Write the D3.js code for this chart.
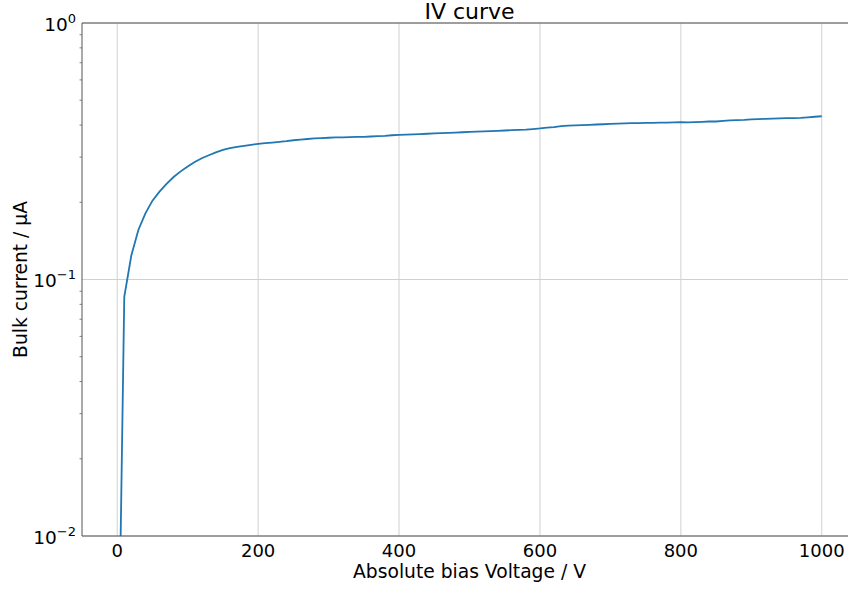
<!DOCTYPE html>
<html>
<head>
<meta charset="utf-8">
<script src="https://cdn.jsdelivr.net/npm/d3@7"></script>
<style>
  body { margin: 0; background: #fff; }
  text { font-family: "DejaVu Sans", sans-serif; fill: #000; }
</style>
</head>
<body>
<div id="chart"></div>
<script>
// IV curve: bias voltage (V) vs bulk current (uA)
var voltages = d3.range(0, 1001, 10);
var currents = [
  0.0013, 0.0855, 0.124, 0.156, 0.181, 0.203, 0.220, 0.236, 0.251, 0.264,
  0.276, 0.287, 0.297, 0.305, 0.313, 0.320, 0.325, 0.329, 0.332, 0.335,
  0.338, 0.340, 0.342, 0.344, 0.346, 0.349, 0.351, 0.353, 0.355, 0.356,
  0.357, 0.358, 0.358, 0.359, 0.360, 0.360, 0.361, 0.362, 0.363, 0.365,
  0.366, 0.367, 0.368, 0.369, 0.370, 0.371, 0.372, 0.373, 0.374, 0.375,
  0.376, 0.377, 0.378, 0.379, 0.380, 0.381, 0.382, 0.383, 0.384, 0.386,
  0.388, 0.391, 0.393, 0.396, 0.398, 0.399, 0.400, 0.401, 0.402, 0.403,
  0.404, 0.405, 0.406, 0.407, 0.407, 0.408, 0.408, 0.409, 0.409, 0.410,
  0.411, 0.410, 0.411, 0.412, 0.413, 0.413, 0.415, 0.417, 0.418, 0.419,
  0.421, 0.422, 0.423, 0.424, 0.425, 0.426, 0.426, 0.427, 0.429, 0.431,
  0.433
];
var xTicks = [0, 200, 400, 600, 800, 1000];
var yTicks = [0.01, 0.1, 1];
var yExps = ["\u22122", "\u22121", "0"];

var W = 848, H = 590;
var margin = { top: 23, left: 82, bottom: 54, right: -9 };
var width = W - margin.left - margin.right,
    height = H - margin.top - margin.bottom;

var svg = d3.select("#chart").append("svg")
    .attr("width", W)
    .attr("height", H);

var x = d3.scaleLinear().domain([-50, 1050]).range([0, width]);
var y = d3.scaleLog().domain([0.01, 1]).range([height, 0]);

var g = svg.append("g")
    .attr("transform", "translate(" + margin.left + "," + margin.top + ")");

g.append("defs").append("clipPath").attr("id", "clip")
  .append("rect").attr("width", width).attr("height", height);

// grid
g.selectAll(".vgrid").data(xTicks).enter().append("line")
    .attr("x1", function(d) { return x(d); }).attr("x2", function(d) { return x(d); })
    .attr("y1", 0).attr("y2", height)
    .attr("stroke", "#d0d0d0").attr("stroke-width", 1);
g.selectAll(".hgrid").data(yTicks).enter().append("line")
    .attr("x1", 0).attr("x2", width)
    .attr("y1", function(d) { return y(d); }).attr("y2", function(d) { return y(d); })
    .attr("stroke", "#d0d0d0").attr("stroke-width", 1);

// minor y ticks
var minor = [];
[0.01, 0.1].forEach(function(b) {
  for (var k = 2; k <= 9; k++) minor.push(b * k);
});
g.selectAll(".minor").data(minor).enter().append("line")
    .attr("x1", -2.5).attr("x2", 0)
    .attr("y1", function(d) { return y(d); }).attr("y2", function(d) { return y(d); })
    .attr("stroke", "#666").attr("stroke-width", 0.8);

// curve
var line = d3.line()
    .x(function(d, i) { return x(voltages[i]); })
    .y(function(d) { return y(d); });

g.append("path")
    .datum(currents)
    .attr("clip-path", "url(#clip)")
    .attr("d", line)
    .attr("fill", "none")
    .attr("stroke", "#1f77b4")
    .attr("stroke-width", 1.8);

// spines
g.append("line").attr("x1", 0).attr("x2", 0).attr("y1", 0).attr("y2", height)
    .attr("stroke", "#555").attr("stroke-width", 1);
g.append("line").attr("x1", 0).attr("x2", width).attr("y1", height).attr("y2", height)
    .attr("stroke", "#555").attr("stroke-width", 1);
g.append("line").attr("x1", 0).attr("x2", width).attr("y1", 0).attr("y2", 0)
    .attr("stroke", "#555").attr("stroke-width", 1);

// x tick labels
g.selectAll(".xl").data(xTicks).enter().append("text")
    .attr("x", function(d) { return x(d); })
    .attr("y", height + 21)
    .attr("text-anchor", "middle")
    .style("font-size", "18px")
    .text(function(d) { return d; });

// y tick labels
var yl = g.selectAll(".yl").data(yTicks).enter().append("text")
    .attr("x", -6)
    .attr("y", function(d) { return y(d) + 7.5; })
    .attr("text-anchor", "end")
    .style("font-size", "18.5px");
yl.append("tspan").text("10");
yl.append("tspan")
    .attr("dy", -8)
    .style("font-size", "13px")
    .text(function(d, i) { return yExps[i]; });

// titles
svg.append("text")
    .attr("x", margin.left + width / 2)
    .attr("y", 19)
    .attr("text-anchor", "middle")
    .style("font-size", "22px")
    .text("IV curve");

svg.append("text")
    .attr("x", margin.left + width / 2)
    .attr("y", 578)
    .attr("text-anchor", "middle")
    .style("font-size", "18.7px")
    .text("Absolute bias Voltage / V");

svg.append("text")
    .attr("transform", "translate(27," + (margin.top + height / 2) + ") rotate(-90)")
    .attr("text-anchor", "middle")
    .style("font-size", "18.7px")
    .text("Bulk current / \u00b5A");
</script>
</body>
</html>
